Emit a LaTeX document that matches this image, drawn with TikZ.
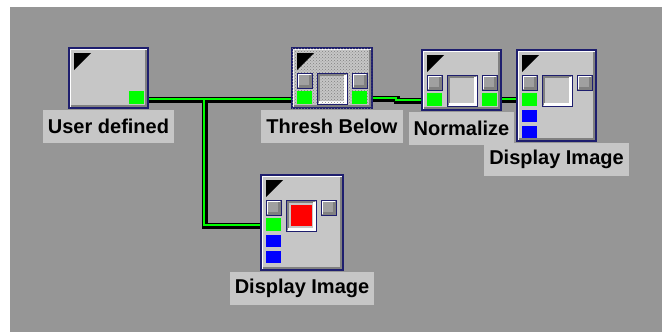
\documentclass[tikz,border=0pt]{standalone}
\usepackage{fontspec}
\setmainfont{Liberation Sans}
\usetikzlibrary{positioning,patterns}

\definecolor{bggray}{RGB}{150,150,150}
\definecolor{panel}{RGB}{198,198,198}
\definecolor{knobgray}{RGB}{160,160,160}
\definecolor{shadow}{RGB}{128,128,128}
\definecolor{navy}{RGB}{30,30,110}
\definecolor{portgreen}{RGB}{0,255,0}
\definecolor{portblue}{RGB}{0,0,255}

\pgfdeclarelayer{back}
\pgfsetlayers{back,main}

\begin{document}
\begin{tikzpicture}[x=1pt,y=-1pt,
  raised/.style={path picture={
    \draw[white, line width=2pt] ([xshift=1pt,yshift=1pt]path picture bounding box.south west) |- ([xshift=-1pt,yshift=-1pt]path picture bounding box.north east);
    \draw[shadow, line width=3pt] ([xshift=1.5pt,yshift=1.5pt]path picture bounding box.south west) -| ([xshift=-1.5pt,yshift=-1.5pt]path picture bounding box.north east);}},
  sunken/.style={path picture={
    \draw[shadow, line width=3pt] ([xshift=1.5pt,yshift=1.5pt]path picture bounding box.south west) |- ([xshift=-1.5pt,yshift=-1.5pt]path picture bounding box.north east);
    \draw[white, line width=3pt] ([xshift=1.5pt,yshift=1.5pt]path picture bounding box.south west) -| ([xshift=-1.5pt,yshift=-1.5pt]path picture bounding box.north east);}},
  module/.style={draw=navy, fill=panel, line width=1.3pt, inner sep=0pt, outer sep=0pt, raised},
  busy/.style={postaction={pattern=crosshatch dots, pattern color=shadow}},
  tag/.style={fill=panel, text=black, font=\fontsize{20}{22}\selectfont\bfseries,
    inner xsep=5pt, inner ysep=0pt, minimum height=33pt, outer sep=0pt},
  knob/.style={draw=navy, fill=knobgray, line width=1pt, raised},
  screen/.style={draw=navy, fill=panel, line width=1pt, sunken},
  port/.style={fill=portgreen},
  wire/.style={black, line width=5.5pt},
  glow/.style={portgreen, line width=2pt, transform canvas={xshift=-1pt,yshift=1pt}}]

  \useasboundingbox (0,0) rectangle (662,332);

  % modules
  \node[module, minimum width=79pt, minimum height=60pt] (user) at (108.5,78) {};
  \node[module, busy, minimum width=80pt, minimum height=60pt] (thresh) at (332,78) {};
  \node[module, minimum width=79pt, minimum height=60pt] (norm) at (461.5,80) {};
  \node[module, minimum width=79pt, minimum height=91pt] (disp1) at (556.5,95.5) {};
  \node[module, minimum width=82pt, minimum height=95pt] (disp2) at (302,222.5) {};

  % corner marks
  \foreach \m in {user,thresh,norm,disp1,disp2}
    \fill ([shift={(5,5)}]\m.north west) -- ++(17,0) -- ++(-17,17) -- cycle;

  % knobs, screens and ports
  \foreach \m in {thresh,norm,disp1,disp2} {
    \draw[knob] ([shift={(5,25)}]\m.north west) rectangle ++(15,15);
    \draw[knob] ([shift={(60,25)}]\m.north west) rectangle ++(15,15);
    \draw[screen] ([shift={(25,25)}]\m.north west) rectangle ++(30,31);
    \fill[port] ([shift={(5,43)}]\m.north west) rectangle ++(15,13);
  }
  \foreach \m in {user,thresh,norm}
    \fill[port] ([shift={(60,43)}]\m.north west) rectangle ++(15,13);
  \foreach \m in {disp1,disp2} {
    \fill[portblue] ([shift={(5,60)}]\m.north west) rectangle ++(15,12);
    \fill[portblue] ([shift={(5,76)}]\m.north west) rectangle ++(15,12);
  }
  \fill[pattern=crosshatch dots, pattern color=shadow] ([shift={(28,28)}]thresh.north west) rectangle ++(24,27);
  \fill[red] ([shift={(30,30)}]disp2.north west) rectangle ++(21,21);

  % labels
  \node[tag, below=2pt of user] (userlbl) {User defined};
  \node[tag, below=2pt of thresh] (threshlbl) {Thresh Below};
  \node[tag, below=2pt of norm] (normlbl) {Normalize};
  \node[tag, below=2pt of disp1] (disp1lbl) {Display Image};
  \node[tag, below=2pt of disp2] (disp2lbl) {Display Image};

  % wires
  \coordinate (j1) at (205,100);
  \coordinate (j2) at (205,226);
  \coordinate (j3) at (397,99);
  \coordinate (j4) at (397,101);
  \begin{pgfonlayer}{back}
    \fill[white] (0,0) rectangle (662,332);
    \fill[bggray] (10,7) rectangle (662,332);
    \foreach \s in {wire,glow} {
      \draw[\s] (user.east |- j1) -- (thresh.west |- j1);
      \draw[\s] (j1) -- (j2) -- (disp2.west |- j2);
      \draw[\s] (thresh.east |- j3) -- (j3) -- (j4) -- (norm.west |- j4);
      \draw[\s] (norm.east |- j1) -- (disp1.west |- j1);
    }
  \end{pgfonlayer}
\end{tikzpicture}
\end{document}
